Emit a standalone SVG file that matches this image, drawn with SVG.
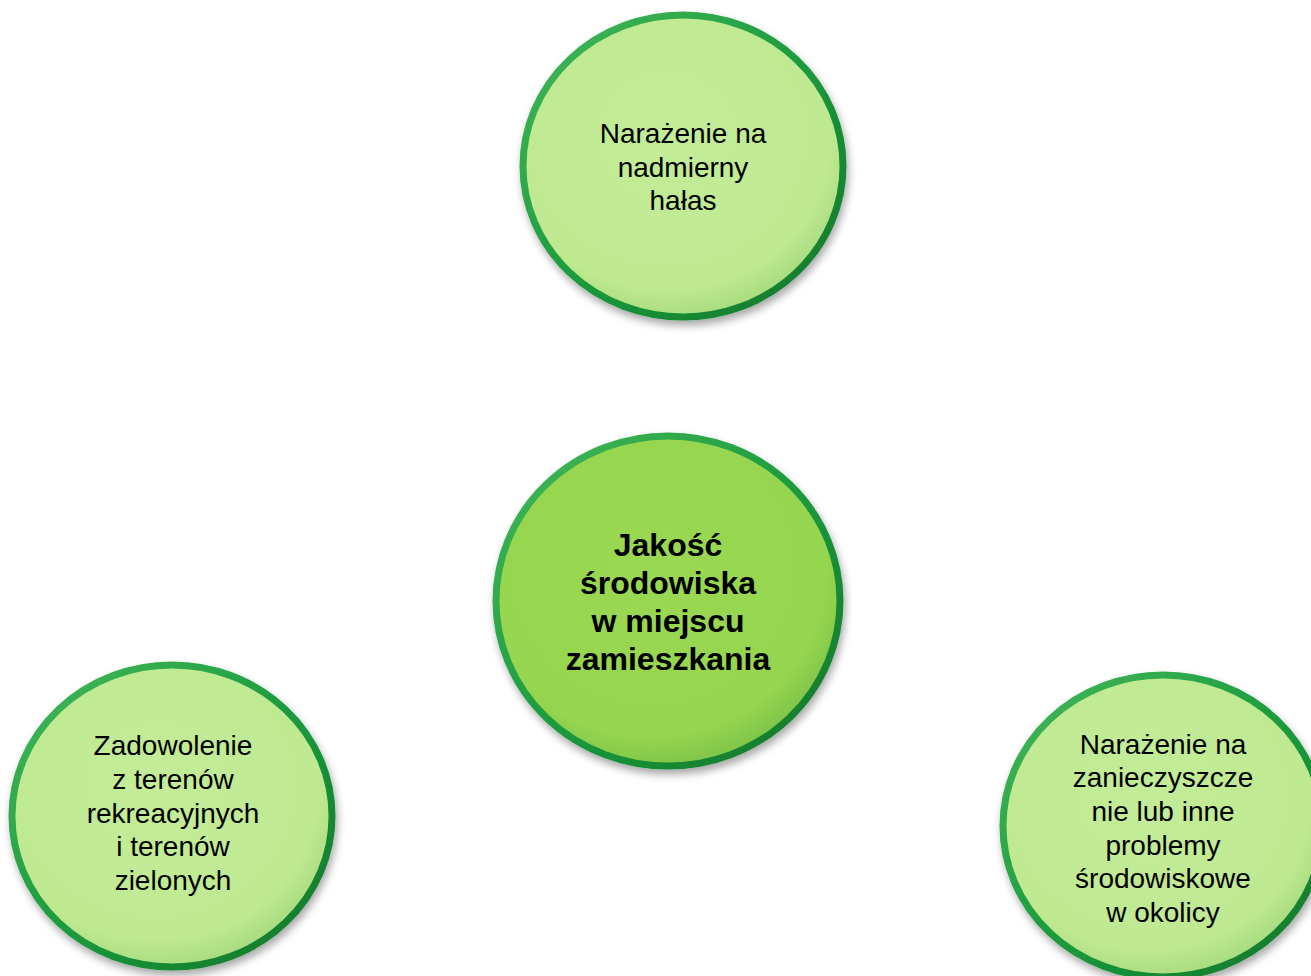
<svg xmlns="http://www.w3.org/2000/svg" width="1311" height="976" viewBox="0 0 1311 976">
<defs>
<linearGradient id="rim" x1="0" y1="0" x2="1" y2="1">
<stop offset="0" stop-color="#45b85a"/>
<stop offset="0.5" stop-color="#1c9c3e"/>
<stop offset="1" stop-color="#107528"/>
</linearGradient>
<radialGradient id="light" cx="0.45" cy="0.4" r="0.6">
<stop offset="0" stop-color="#c3ec98"/>
<stop offset="0.85" stop-color="#bfe991"/>
<stop offset="1" stop-color="#a9dc80"/>
</radialGradient>
<radialGradient id="dark" cx="0.45" cy="0.4" r="0.6">
<stop offset="0" stop-color="#9ad852"/>
<stop offset="0.85" stop-color="#96d54f"/>
<stop offset="1" stop-color="#80c64a"/>
</radialGradient>
<filter id="sh" x="-20%" y="-20%" width="140%" height="140%">
<feGaussianBlur in="SourceAlpha" stdDeviation="4"/>
<feOffset dx="2" dy="5" result="b"/>
<feComponentTransfer><feFuncA type="linear" slope="0.35"/></feComponentTransfer>
<feMerge><feMergeNode/><feMergeNode in="SourceGraphic"/></feMerge>
</filter>
</defs>
<style>
.c{stroke:url(#rim);stroke-width:7;filter:url(#sh)}
.t{font-family:"Liberation Sans",Arial,sans-serif;font-size:28px;fill:#000;text-anchor:middle}
.b{font-family:"Liberation Sans",Arial,sans-serif;font-size:32px;font-weight:bold;fill:#000;text-anchor:middle}
</style>
<rect width="1311" height="976" fill="#ffffff"/>
<g id="connectors"/>
<g id="top">
<ellipse class="c" cx="683" cy="166" rx="160" ry="151" fill="url(#light)"/>
<text class="t" x="683" y="143">Narażenie na</text>
<text class="t" x="683" y="177">nadmierny</text>
<text class="t" x="683" y="210">hałas</text>
</g>
<g id="center">
<ellipse class="c" cx="668" cy="601" rx="172" ry="165" fill="url(#dark)"/>
<text class="b" x="668" y="556">Jakość</text>
<text class="b" x="668" y="594">środowiska</text>
<text class="b" x="668" y="632">w miejscu</text>
<text class="b" x="668" y="670">zamieszkania</text>
</g>
<g id="left">
<ellipse class="c" cx="172" cy="816" rx="160" ry="151" fill="url(#light)"/>
<text class="t" x="173" y="755">Zadowolenie</text>
<text class="t" x="173" y="789">z terenów</text>
<text class="t" x="173" y="823">rekreacyjnych</text>
<text class="t" x="173" y="856">i terenów</text>
<text class="t" x="173" y="890">zielonych</text>
</g>
<g id="right">
<ellipse class="c" cx="1163" cy="826" rx="160" ry="151" fill="url(#light)"/>
<text class="t" x="1163" y="754">Narażenie na</text>
<text class="t" x="1163" y="787">zanieczyszcze</text>
<text class="t" x="1163" y="821">nie lub inne</text>
<text class="t" x="1163" y="855">problemy</text>
<text class="t" x="1163" y="888">środowiskowe</text>
<text class="t" x="1163" y="922">w okolicy</text>
</g>
</svg>
